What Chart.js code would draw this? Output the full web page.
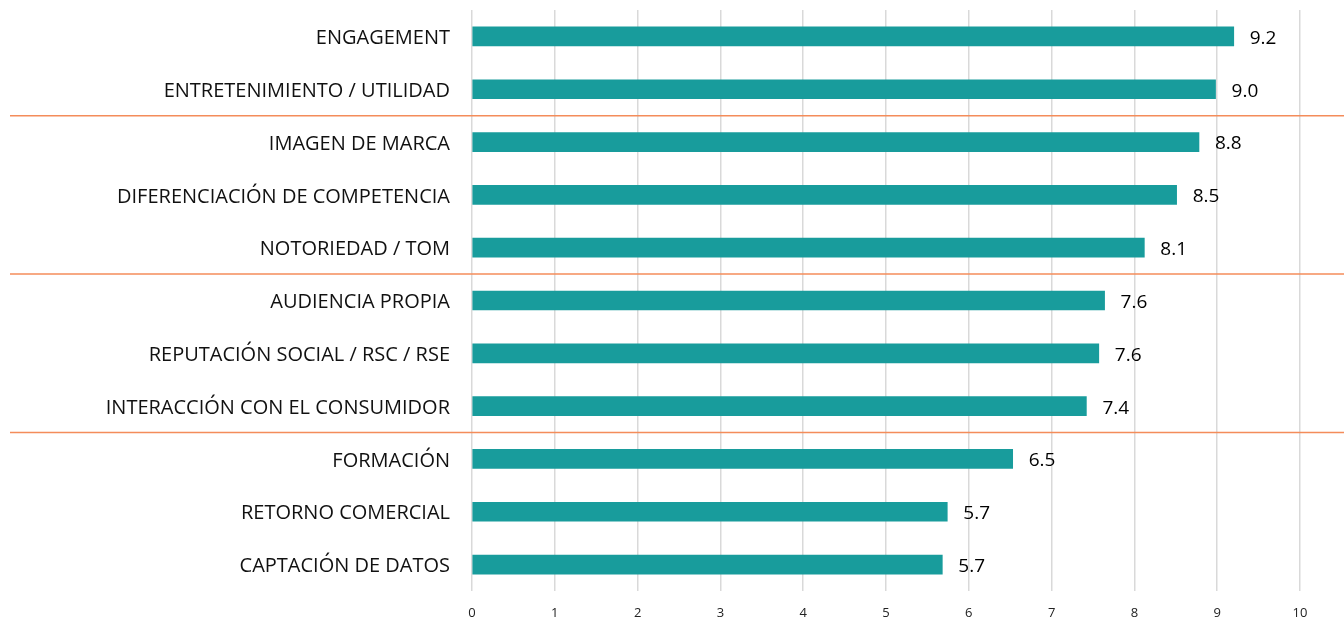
<!DOCTYPE html>
<html>
<head>
<meta charset="utf-8">
<script src="https://cdn.jsdelivr.net/npm/chart.js@4/dist/chart.umd.min.js"></script>
<style>
  html, body { margin: 0; padding: 0; background: #fff; }
  #wrap { width: 1344px; height: 622px; }
</style>
</head>
<body>
<div id="wrap"><canvas id="chart"></canvas></div>
<script>
// categories, top to bottom
const categories = [
    'ENGAGEMENT',
    'ENTRETENIMIENTO / UTILIDAD',
    'IMAGEN DE MARCA',
    'DIFERENCIACIÓN DE COMPETENCIA',
    'NOTORIEDAD / TOM',
    'AUDIENCIA PROPIA',
    'REPUTACIÓN SOCIAL / RSC / RSE',
    'INTERACCIÓN CON EL CONSUMIDOR',
    'FORMACIÓN',
    'RETORNO COMERCIAL',
    'CAPTACIÓN DE DATOS'
];
const scores = [9.2, 8.98, 8.78, 8.51, 8.12, 7.64, 7.57, 7.42, 6.53, 5.74, 5.68];
const xTicks = [0, 1, 2, 3, 4, 5, 6, 7, 8, 9, 10];
// orange separators are drawn after these category indexes
const groupBreaks = [1, 4, 7];

const FONT = '"Open Sans", "Noto Sans", sans-serif';

// value labels to the right of each bar
const valueLabels = {
    id: 'valueLabels',
    afterDatasetsDraw(chart) {
        const ctx = chart.ctx;
        const meta = chart.getDatasetMeta(0);
        ctx.save();
        ctx.font = '19px ' + FONT;
        ctx.fillStyle = '#000';
        ctx.textAlign = 'left';
        ctx.textBaseline = 'middle';
        meta.data.forEach((bar, i) => {
            ctx.fillText(scores[i].toFixed(1), bar.x + 16, bar.y + 2);
        });
        ctx.restore();
    }
};

// orange lines between groups, full width
const groupLines = {
    id: 'groupLines',
    afterDraw(chart) {
        const ctx = chart.ctx;
        const y = chart.scales.y;
        ctx.save();
        ctx.strokeStyle = 'rgb(244, 140, 90)';
        ctx.lineWidth = 1.5;
        groupBreaks.forEach(i => {
            const yy = (y.getPixelForValue(i) + y.getPixelForValue(i + 1)) / 2;
            ctx.beginPath();
            ctx.moveTo(10, yy);
            ctx.lineTo(chart.width, yy);
            ctx.stroke();
        });
        ctx.restore();
    }
};

new Chart(document.getElementById('chart'), {
    type: 'bar',
    data: {
        labels: categories,
        datasets: [{
            data: scores,
            backgroundColor: '#189c9c',
            barThickness: 19
        }]
    },
    options: {
        indexAxis: 'y',
        responsive: true,
        maintainAspectRatio: false,
        animation: false,
        layout: { padding: { top: 10, right: 44, bottom: 0, left: 0 } },
        plugins: {
            legend: { display: false },
            tooltip: { enabled: false }
        },
        scales: {
            x: {
                min: 0,
                max: 10,
                afterBuildTicks: axis => { axis.ticks = xTicks.map(v => ({ value: v })); },
                afterFit: axis => { axis.height = 31; axis.paddingLeft = 0; axis.paddingRight = 0; },
                grid: { color: '#d9d9d9', lineWidth: 1.5, drawTicks: false },
                border: { display: false },
                ticks: { color: '#222', font: { family: FONT, size: 13 }, padding: 14 }
            },
            y: {
                afterFit: axis => { axis.width = 472; axis.paddingTop = 0; axis.paddingBottom = 0; },
                grid: { display: false },
                border: { display: false },
                ticks: { color: '#111', font: { family: FONT, size: 20 }, padding: 14, labelOffset: 2 }
            }
        }
    },
    plugins: [valueLabels, groupLines]
});
</script>
</body>
</html>
